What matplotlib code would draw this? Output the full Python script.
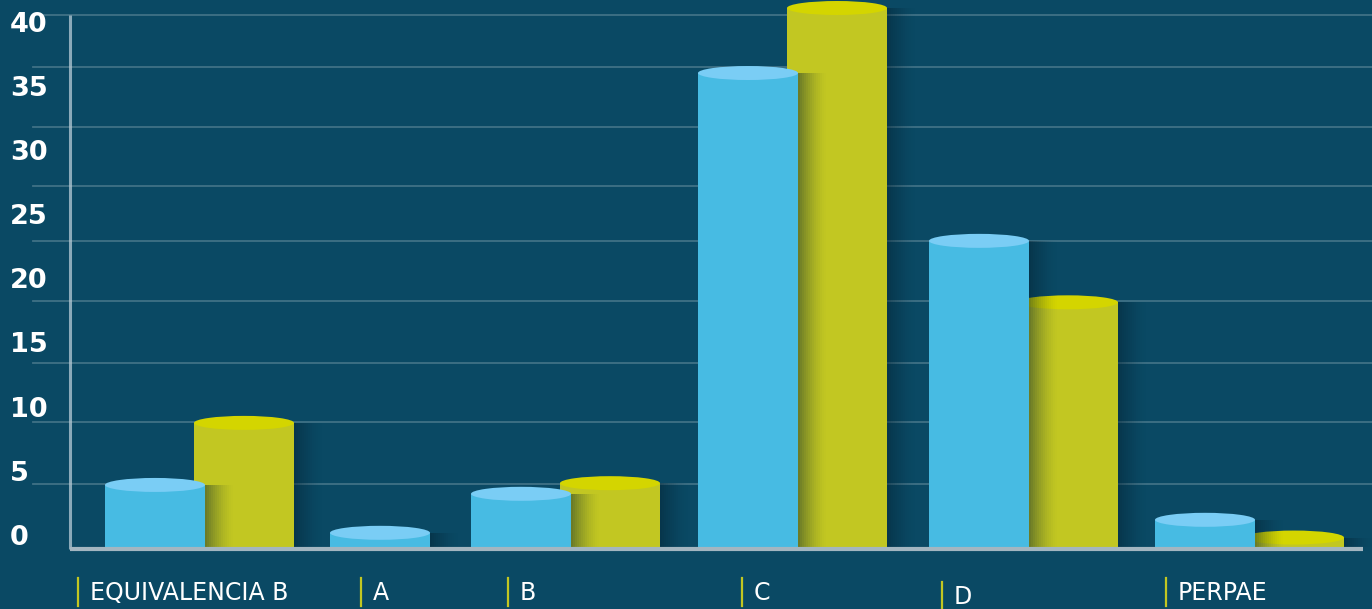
import numpy as np
import matplotlib.pyplot as plt
from matplotlib.patches import Ellipse, Rectangle

# data
categories = ['EQUIVALENCIA B', 'A', 'B', 'C', 'D', 'PERPAE']
blue_vals = [5.25, 1.2, 4.5, 40.1, 25.9, 2.3]
yellow_vals = [10.5, 0.0, 5.4, 45.6, 20.7, 0.8]
ytick_vals = [0, 5, 10, 15, 20, 25, 30, 35, 40]
grid_levels = [5.3, 10.6, 15.6, 20.8, 25.9, 30.5, 35.5, 40.6, 45.0]

# layout (pixel-like x units)
group_x = [105, 330, 471, 698, 929, 1155]
label_x = [78, 361, 508, 742, 942, 1166]
label_dy = [0, 0, 0, 0, -0.3, 0]
bar_w = 100
y_offset = 89

BG = '#0a4964'
BLUE, BLUE_TOP = '#47bbe3', '#7acdf5'
YELLOW, YELLOW_TOP = '#c2c722', '#d4d500'
px = 11.82  # pixels per unit on the y scale

fig = plt.figure(figsize=(13.72, 6.09), dpi=100)
fig.patch.set_facecolor(BG)
ax = fig.add_axes([0, 0, 1, 1])
ax.set_facecolor(BG)
ax.set_xlim(0, 1372)
ax.set_ylim(-62 / px, 547 / px)
ax.axis('off')

# grid lines
for g in grid_levels:
    ax.plot([33, 1372], [g, g], color='white', alpha=0.22, lw=1.3, zorder=1)

ell_h = 14 / px


def shadow(x0, h, z):
    # soft dark strip on the right side of a cylinder
    n = 14
    for i in range(n):
        a = 0.45 * (1 - i / n) ** 1.5
        ax.add_patch(Rectangle((x0 + i * 2, 0), 2, h, color='#03202f',
                               alpha=a, lw=0, zorder=z))


def cylinder(x0, h, body, top, z):
    if h <= 0:
        return
    ax.bar(x0, h, width=bar_w, align='edge', color=body, lw=0, zorder=z)
    ax.add_patch(Ellipse((x0 + bar_w / 2, h), bar_w, ell_h, color=top,
                         lw=0, zorder=z + 0.1))


for i, gx in enumerate(group_x):
    yx = gx + y_offset
    if yellow_vals[i] > 0:
        shadow(yx + bar_w, yellow_vals[i], 2)
        cylinder(yx, yellow_vals[i], YELLOW, YELLOW_TOP, 3)
    shadow(gx + bar_w, blue_vals[i], 4)
    cylinder(gx, blue_vals[i], BLUE, BLUE_TOP, 5)

# axes lines
ax.plot([70, 70], [-0.15, 45.0], color='#b8ccd6', alpha=0.75, lw=2.2,
        zorder=6, solid_capstyle='butt')
ax.plot([70, 1363], [-0.15, -0.15], color='#a3b6c1', lw=3, zorder=6,
        solid_capstyle='butt')

# y labels
for v in ytick_vals:
    ax.text(10, 0.76 + v * 1.086, str(v), color='white', fontsize=19.5,
            fontweight='bold', ha='left', va='center', zorder=7)

# category labels with yellow markers
for i, c in enumerate(categories):
    lx = label_x[i]
    dy = label_dy[i]
    ax.plot([lx, lx], [-31 / px + dy, -59 / px + dy], color='#c2c722',
            lw=1.6, zorder=7)
    ax.text(lx + 12, -46 / px + dy, c, color='white', fontsize=17,
            ha='left', va='center', zorder=7)

fig.savefig('out.png', dpi=100, facecolor=BG)
